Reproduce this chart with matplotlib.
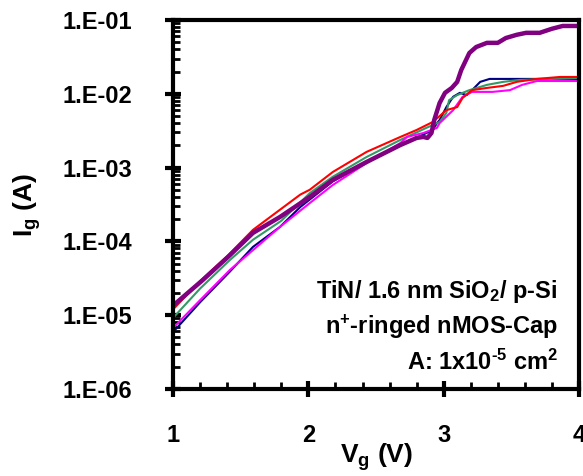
import numpy as np
import matplotlib
matplotlib.use("Agg")
import matplotlib.pyplot as plt
from matplotlib.ticker import FixedLocator, LogLocator, MultipleLocator, NullFormatter

plt.rcParams['font.family'] = 'Liberation Sans'
plt.rcParams['font.weight'] = 'bold'
plt.rcParams['axes.unicode_minus'] = False
plt.rcParams['mathtext.fontset'] = 'custom'
plt.rcParams['mathtext.rm'] = 'Liberation Sans:bold'
plt.rcParams['mathtext.bf'] = 'Liberation Sans:bold'
plt.rcParams['mathtext.it'] = 'Liberation Sans:bold'
plt.rcParams['mathtext.default'] = 'rm'

# gate voltage (V) and gate current (A)
v_purple = [1.0, 1.22, 1.42, 1.59, 1.79, 2.01, 2.18, 2.43, 2.68, 2.80, 2.85, 2.88, 2.91, 2.93,
            2.97, 3.01, 3.06, 3.10, 3.13, 3.19, 3.24, 3.32, 3.40, 3.46, 3.54, 3.61, 3.71,
            3.80, 3.88, 4.0]
i_purple = [1.35e-5, 3.0e-5, 6.5e-5, 1.3e-4, 2.14e-4, 4.0e-4, 6.8e-4, 1.19e-3, 2.02e-3, 2.52e-3,
            2.6e-3, 2.52e-3, 2.94e-3, 4.4e-3, 7.5e-3, 1.03e-2, 1.2e-2, 1.45e-2, 2.1e-2, 3.57e-2,
            4.3e-2, 4.9e-2, 4.9e-2, 5.7e-2, 6.3e-2, 6.7e-2, 6.7e-2, 7.6e-2, 8.3e-2, 8.3e-2]

v_red = [1.0, 1.2, 1.4, 1.59, 1.94, 2.01, 2.18, 2.43, 2.68, 2.80, 2.92, 3.02, 3.10, 3.14,
         3.21, 3.32, 3.44, 3.54, 3.69, 3.86, 4.0]
i_red = [1.2e-5, 2.9e-5, 6.3e-5, 1.43e-4, 4.3e-4, 5.0e-4, 8.7e-4, 1.63e-3, 2.6e-3, 3.23e-3,
         4.15e-3, 6.0e-3, 6.6e-3, 8.8e-3, 1.12e-2, 1.2e-2, 1.28e-2, 1.45e-2, 1.59e-2, 1.69e-2,
         1.69e-2]

v_green = [1.0, 1.2, 1.42, 1.59, 1.8, 2.01, 2.18, 2.43, 2.68, 2.87, 2.97, 3.02, 3.04, 3.10,
           3.19, 3.32, 3.44, 3.56, 3.80, 4.0]
i_green = [9.2e-6, 2.3e-5, 5.6e-5, 1.05e-4, 1.9e-4, 4.5e-4, 7.5e-4, 1.39e-3, 2.37e-3, 3.44e-3,
           4.15e-3, 5.5e-3, 8.2e-3, 9.6e-3, 1.12e-2, 1.32e-2, 1.45e-2, 1.54e-2, 1.59e-2, 1.64e-2]

v_magenta = [1.0, 1.2, 1.42, 1.79, 2.01, 2.18, 2.43, 2.68, 2.73, 2.85, 2.95, 2.97, 3.07, 3.14,
             3.21, 3.36, 3.49, 3.58, 3.69, 4.0]
i_magenta = [6.7e-6, 1.6e-5, 4.1e-5, 1.57e-4, 3.3e-4, 5.8e-4, 1.15e-3, 2.15e-3, 2.6e-3, 2.94e-3,
             3.44e-3, 4.0e-3, 6.0e-3, 9.1e-3, 1.06e-2, 1.06e-2, 1.12e-2, 1.32e-2, 1.49e-2, 1.49e-2]

v_blue = [1.0, 1.2, 1.42, 1.59, 1.79, 1.94, 2.18, 2.43, 2.68, 2.92, 2.95, 2.97, 3.02, 3.07,
          3.12, 3.17, 3.21, 3.27, 3.34, 3.44, 4.0]
i_blue = [5.9e-6, 1.5e-5, 3.9e-5, 8.4e-5, 1.57e-4, 2.92e-4, 6.5e-4, 1.17e-3, 2.0e-3, 3.23e-3,
          4.0e-3, 4.4e-3, 6.6e-3, 9.1e-3, 1.03e-2, 9.6e-3, 1.12e-2, 1.45e-2, 1.59e-2, 1.59e-2,
          1.59e-2]

yticks = [1e-6, 1e-5, 1e-4, 1e-3, 1e-2, 1e-1]
ytick_labels = ['1.E-06', '1.E-05', '1.E-04', '1.E-03', '1.E-02', '1.E-01']
xticks = [1, 2, 3, 4]

fig = plt.figure(figsize=(5.83, 4.76), dpi=100)
ax = fig.add_axes([0.297, 0.183, 0.696, 0.775])

ax.plot(v_blue, i_blue, color='#000080', lw=1.5)
ax.plot(v_green, i_green, color='#339966', lw=1.5)
ax.plot(v_magenta, i_magenta, color='#FF00FF', lw=1.5)
ax.plot(v_red, i_red, color='#FF0000', lw=1.5)
ax.plot(v_purple, i_purple, color='#800080', lw=3.2)

ax.set_yscale('log')
ax.set_xlim(1, 4)
ax.set_ylim(1e-6, 1e-1)

ax.yaxis.set_major_locator(FixedLocator(yticks))
ax.set_yticklabels(ytick_labels)
ax.yaxis.set_minor_locator(LogLocator(base=10, subs=np.arange(2, 10)))
ax.yaxis.set_minor_formatter(NullFormatter())
ax.set_xticks(xticks)
ax.set_xticklabels([str(x) for x in xticks])
ax.xaxis.set_minor_locator(MultipleLocator(0.2))

for s in ax.spines.values():
    s.set_linewidth(3)

ax.tick_params(which='major', direction='inout', length=11, width=3, labelsize=17)
ax.tick_params(which='minor', direction='in', length=5, width=2)
ax.tick_params(axis='x', which='major', pad=20)
ax.tick_params(axis='y', which='major', pad=24)

ax.set_xlabel('V$_{g}$ (V)', fontsize=19, fontweight='bold', labelpad=-4)
ax.set_ylabel('I$_{g}$ (A)', fontsize=19, fontweight='bold', labelpad=14)

ax.text(0.948, 0.263, 'TiN/ 1.6 nm SiO$_{2}$/ p-Si', transform=ax.transAxes,
        ha='right', va='center', fontsize=17, fontweight='bold')
ax.text(0.948, 0.168, 'n$^{+}$-ringed nMOS-Cap', transform=ax.transAxes,
        ha='right', va='center', fontsize=17, fontweight='bold')
ax.text(0.948, 0.073, r'A: 1x10$^{\text{-}5}$ cm$^{2}$', transform=ax.transAxes,
        ha='right', va='center', fontsize=17, fontweight='bold')

fig.savefig('out.png', dpi=100)
